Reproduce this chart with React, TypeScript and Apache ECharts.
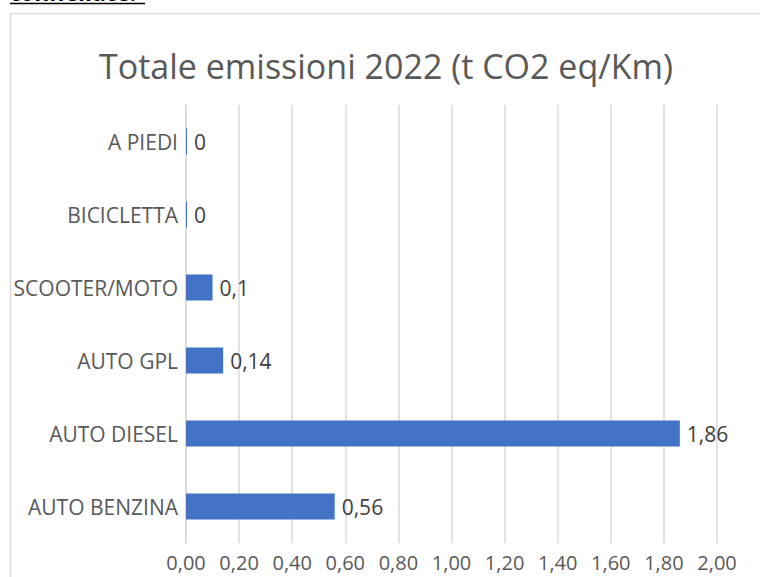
import React, { useEffect, useRef } from "react";
import * as echarts from "echarts";

const categories = ["AUTO BENZINA", "AUTO DIESEL", "AUTO GPL", "SCOOTER/MOTO", "BICICLETTA", "A PIEDI"];
const values = [0.56, 1.86, 0.14, 0.1, 0, 0];
const titleText = "Totale emissioni 2022 (t CO2 eq/Km)";
const topText = "tonnellate:";

export default function App() {
  const ref = useRef<HTMLDivElement>(null);
  useEffect(() => {
    const chart = echarts.init(ref.current!, null, { renderer: "svg" });
    const font = "Open Sans";
    chart.setOption({
      animation: false,
      backgroundColor: "#ffffff",
      title: {
        text: titleText,
        left: 381,
        textAlign: "center",
        top: 44,
        textStyle: { fontFamily: font, fontSize: 34, fontWeight: "normal", color: "#595959" },
      },
      graphic: [
        {
          type: "rect",
          shape: { x: 10.5, y: 13.5, width: 800, height: 700 },
          style: { fill: "none", stroke: "#d9d9d9", lineWidth: 1.5 },
          silent: true,
        },
        {
          type: "text",
          x: 10,
          y: 3,
          style: {
            text: topText,
            fontFamily: font,
            fontSize: 23,
            fontWeight: "bold",
            fill: "#000",
            textVerticalAlign: "bottom",
          },
        },
        {
          type: "line",
          shape: { x1: 10, y1: 3.5, x2: 145, y2: 3.5 },
          style: { stroke: "#000", lineWidth: 1.5 },
        },
      ],
      grid: { left: 186, right: 43, top: 105, bottom: 34, containLabel: false },
      xAxis: {
        type: "value",
        min: 0,
        max: 2,
        interval: 0.2,
        axisLine: { show: false },
        axisTick: { show: false },
        splitLine: { show: true, lineStyle: { color: "#d9d9d9", width: 1.5 } },
        axisLabel: {
          fontFamily: font,
          fontSize: 20,
          color: "#595959",
          margin: 9,
          formatter: (v: number) => v.toFixed(2).replace(".", ","),
        },
      },
      yAxis: {
        type: "category",
        data: categories,
        axisLine: { show: true, lineStyle: { color: "#d9d9d9", width: 1.5 } },
        axisTick: { show: false },
        axisLabel: { fontFamily: font, fontSize: 21, color: "#595959", margin: 8 },
      },
      series: [
        {
          type: "bar",
          data: values,
          barWidth: 26,
          barMinHeight: 1,
          itemStyle: { color: "#4472c4" },
          label: {
            show: true,
            position: "right",
            distance: 7,
            fontFamily: font,
            fontSize: 21,
            color: "#404040",
            formatter: (p: any) => String(p.value).replace(".", ","),
          },
        },
      ],
    });
    return () => chart.dispose();
  }, []);
  return (
    <div
      ref={ref}
      style={{ position: "fixed", left: 0, top: 0, width: 760, height: 577, background: "#fff" }}
    />
  );
}
